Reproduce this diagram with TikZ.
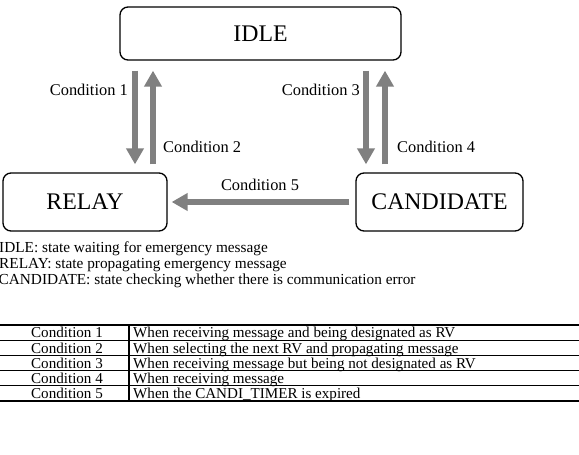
\documentclass[tikz,border=0pt]{standalone}
\usepackage{fontspec}
\setmainfont{Liberation Serif}
\usetikzlibrary{arrows.meta}
\definecolor{arrowgray}{RGB}{128,128,128}
\begin{document}
\begin{tikzpicture}[x=1pt,y=-1pt,
  state/.style={draw=black, line width=1.3pt, rounded corners=8pt, inner sep=0pt,
    font=\fontsize{23.8}{28}\selectfont},
  garrow/.style={draw=arrowgray, line width=6pt, -{Triangle[width=17pt,length=16pt]}},
  cond/.style={inner sep=0pt, font=\fontsize{16.4}{19}\selectfont},
  legend/.style={inner sep=0pt, anchor=base west, font=\fontsize{15.3}{16}\selectfont},
  cell/.style={inner sep=0pt, anchor=base, font=\fontsize{15.1}{16}\selectfont},
  celltext/.style={inner sep=0pt, anchor=base west, font=\fontsize{15.1}{16}\selectfont},
]
\useasboundingbox (0,0) rectangle (579,455);

% states
\node[state, minimum width=281pt, minimum height=53pt] (idle) at (260.5,33.5) {IDLE};
\node[state, minimum width=164pt, minimum height=58pt] (relay) at (85,202) {RELAY};
\node[state, minimum width=167pt, minimum height=58pt] (cand) at (439.5,202) {CANDIDATE};

% arrow x positions
\coordinate (xa) at (135,0);
\coordinate (xb) at (153,0);
\coordinate (xc) at (366,0);
\coordinate (xd) at (385,0);

\draw[garrow, shorten <=10pt, shorten >=8pt] (xa |- idle.south) -- (xa |- relay.north);
\draw[garrow, shorten <=8pt, shorten >=10pt] (xb |- relay.north) -- (xb |- idle.south);
\draw[garrow, shorten <=10pt, shorten >=8pt] (xc |- idle.south) -- (xc |- cand.north);
\draw[garrow, shorten <=8pt, shorten >=10pt] (xd |- cand.north) -- (xd |- idle.south);
\draw[garrow, shorten <=6pt, shorten >=4pt] (cand.west) -- (relay.east);

% condition labels
\node[cond, anchor=east] (l1) at (128,90) {Condition 1};
\node[cond, anchor=west] (l2) at (163,147) {Condition 2};
\node[cond, anchor=east] (l3) at (360,90) {Condition 3};
\node[cond, anchor=west] (l4) at (397,147) {Condition 4};
\node[cond] (l5) at (260,185) {Condition 5};

% legend
\node[legend] (g1) at (-1,252) {IDLE: state waiting for emergency message};
\node[legend] (g2) at (-1,268) {RELAY: state propagating emergency message};
\node[legend] (g3) at (-1.5,284) {CANDIDATE: state checking whether there is communication error};

% table
\draw[line width=1.4pt] (0,325) -- (579,325);
\foreach \y in {340.2,355.4,370.6,385.8} \draw[line width=0.8pt] (0,\y) -- (579,\y);
\draw[line width=2pt] (0,401) -- (579,401);
\draw[line width=1.4pt] (129,325) -- (129,402);

\node[cell] (c1) at (67,337.8) {Condition 1};
\node[cell] (c2) at (67,353) {Condition 2};
\node[cell] (c3) at (67,368.2) {Condition 3};
\node[cell] (c4) at (67,383.4) {Condition 4};
\node[cell] (c5) at (67,398.6) {Condition 5};

\node[celltext] (d1) at (133,337.8) {When receiving message and being designated as RV};
\node[celltext] (d2) at (133,353) {When selecting the next RV and propagating message};
\node[celltext] (d3) at (133,368.2) {When receiving message but being not designated as RV};
\node[celltext] (d4) at (133,383.4) {When receiving message};
\node[celltext] (d5) at (133,398.6) {When the CANDI\_TIMER is expired};
\end{tikzpicture}
\end{document}
